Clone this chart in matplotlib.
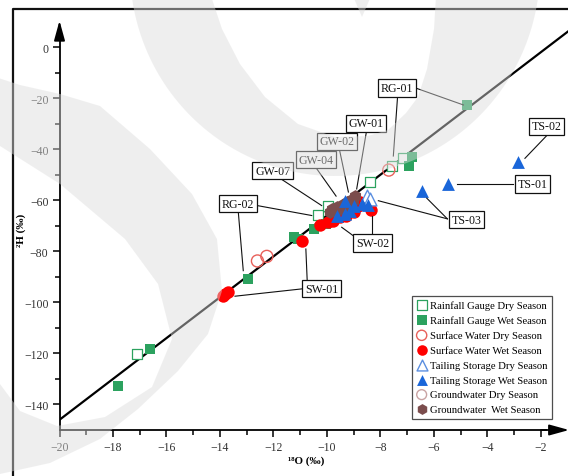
import numpy as np
import matplotlib
matplotlib.use("Agg")
import matplotlib.pyplot as plt
from matplotlib.path import Path
from matplotlib.patches import PathPatch, Polygon
from matplotlib.lines import Line2D
from matplotlib.ticker import FixedLocator

plt.rcParams['font.family'] = ['Liberation Serif', 'DejaVu Serif']

# ---- data (d18O, d2H) ----
rg_dry_x = [-17.1, -10.35, -9.97, -8.4, -7.58, -7.15]
rg_dry_y = [-120.3, -65.6, -62.1, -52.8, -46.5, -43.6]
rg_wet_x = [-17.8, -16.6, -12.96, -11.22, -11.1, -10.47, -10.04, -6.81, -6.92, -4.78]
rg_wet_y = [-132.7, -118.2, -90.8, -74.5, -75.0, -71.2, -69.3, -42.9, -46.8, -22.8]
sw_dry_x = [-12.6, -12.25, -7.69]
sw_dry_y = [-83.8, -82.0, -48.2]
sw_wet_x = [-13.9, -13.8, -13.7, -10.95, -10.26, -9.95, -9.76, -9.5, -9.3, -9.0, -8.83, -8.78, -8.35]
sw_wet_y = [-97.4, -96.6, -96.0, -75.8, -69.6, -68.6, -68.0, -66.5, -66.0, -64.8, -62.1, -60.8, -64.0]
ts_dry_x = [-8.5, -8.4]
ts_dry_y = [-58.2, -59.6]
ts_wet_x = [-9.33, -9.14, -8.99, -8.70, -9.33, -9.64, -8.45, -6.46, -5.47, -2.87]
ts_wet_y = [-60.2, -64.1, -62.1, -61.4, -65.4, -66.0, -62.0, -56.5, -53.6, -45.1]
gw_dry_x = [-10.15]
gw_dry_y = [-66.8]
gw_wet_x = [-9.88, -9.80, -9.70, -9.62, -9.52, -9.44, -9.35, -9.27, -9.18, -9.10, -9.02, -8.94]
gw_wet_y = [-64.8, -63.5, -64.2, -62.8, -63.4, -61.9, -62.5, -60.9, -61.4, -59.8, -60.3, -58.4]

# local meteoric water line
lmwl_slope = 8.0
lmwl_icpt = 14.0

# site labels: name, box centre, leader lines [(start, end), ...]
site_labels = [
    ("RG-01", (-7.38, -16.1), [((-7.36, -19.2), (-7.52, -42.7)), ((-6.65, -16.2), (-4.90, -22.7))]),
    ("GW-01", (-8.55, -29.9), [((-8.52, -32.8), (-8.89, -55.6))]),
    ("GW-02", (-9.63, -37.0), [((-9.54, -39.9), (-9.20, -56.8))]),
    ("GW-04", (-10.40, -44.1), [((-10.45, -46.7), (-9.66, -58.4))]),
    ("GW-07", (-12.03, -48.4), [((-11.76, -51.4), (-10.20, -62.1))]),
    ("RG-02", (-13.33, -61.3), [((-12.61, -62.1), (-10.57, -66.0)), ((-13.32, -64.1), (-13.13, -87.6))]),
    ("SW-02", (-8.30, -76.8), [((-9.02, -73.9), (-9.45, -70.6)), ((-8.33, -73.9), (-8.33, -66.0))]),
    ("SW-01", (-10.20, -94.7), [((-10.74, -91.5), (-10.79, -79.1)), ((-10.91, -94.7), (-13.44, -97.6))]),
    ("TS-03", (-4.77, -67.7), [((-5.50, -67.3), (-8.08, -60.2)), ((-5.50, -67.3), (-6.27, -59.2))]),
    ("TS-01", (-2.31, -53.7), [((-3.04, -53.6), (-5.15, -53.6))]),
    ("TS-02", (-1.79, -31.0), [((-1.73, -34.1), (-2.60, -43.6))]),
]

W, H = 568, 477
fig = plt.figure(figsize=(W / 100, H / 100), dpi=100)
ax = fig.add_axes([59.5 / W, (H - 431) / H, (W - 59.5) / W, 431 / H])
ax.set_xlim(-20, -0.99)
ax.set_ylim(-150, 18.8)
ax.patch.set_alpha(0)

green = '#2ca25f'
red_l = '#e8605a'
blue_l = '#5b8fe0'
gw_l = '#c9a3a3'

xl = np.array([-20, -0.99])
ax.plot(xl, lmwl_slope * xl + lmwl_icpt, color='black', lw=1.6, zorder=2)

ax.scatter(gw_dry_x, gw_dry_y, marker='o', s=70, facecolor='none', edgecolor=gw_l, lw=1.0, zorder=3,
           label='Groundwater Dry Season')
ax.scatter(rg_dry_x, rg_dry_y, marker='s', s=62, facecolor='white', edgecolor=green, lw=0.9, zorder=3,
           label='Rainfall Gauge Dry Season')
ax.scatter(rg_wet_x, rg_wet_y, marker='s', s=62, color=green, lw=0, zorder=3,
           label='Rainfall Gauge Wet Season')
ax.scatter(sw_dry_x, sw_dry_y, marker='o', s=75, facecolor='none', edgecolor=red_l, lw=1.0, zorder=4,
           label='Surface Water Dry Season')
ax.scatter(sw_wet_x, sw_wet_y, marker='o', s=80, color='#ff0000', lw=0, zorder=4,
           label='Surface Water Wet Season')
ax.scatter(gw_wet_x, gw_wet_y, marker='h', s=85, color='#7b4d4d', lw=0, zorder=5,
           label='Groundwater  Wet Season')
ax.scatter(ts_dry_x, ts_dry_y, marker='^', s=85, facecolor='white', edgecolor=blue_l, lw=1.0, zorder=6,
           label='Tailing Storage Dry Season')
ax.scatter(ts_wet_x, ts_wet_y, marker='^', s=85, color='#1a66d9', lw=0, zorder=6,
           label='Tailing Storage Wet Season')

# leader lines + boxed labels
for name, (bx, by), leaders in site_labels:
    for (x0, y0), (x1, y1) in leaders:
        ax.plot([x0, x1], [y0, y1], color='#111111', lw=0.8, zorder=7, clip_on=False)
    ax.text(bx, by, name, ha='center', va='center', fontsize=8.6, color='#111111', zorder=8,
            bbox=dict(boxstyle='square,pad=0.22', fc='white', ec='#111111', lw=0.9), clip_on=False)

# legend in the original order
h, l = ax.get_legend_handles_labels()
order = ['Rainfall Gauge Dry Season', 'Rainfall Gauge Wet Season', 'Surface Water Dry Season',
         'Surface Water Wet Season', 'Tailing Storage Dry Season', 'Tailing Storage Wet Season',
         'Groundwater Dry Season', 'Groundwater  Wet Season']
hd = dict(zip(l, h))
leg = ax.legend([hd[k] for k in order], order, loc='upper left', bbox_to_anchor=(411.5 / W, 1 - 296.5 / H),
                bbox_transform=fig.transFigure, borderaxespad=0, fontsize=7.7, frameon=True, fancybox=False,
                handletextpad=0.25, labelspacing=0.5, borderpad=0.45, handlelength=1.0, markerscale=0.85)
leg.get_frame().set_edgecolor('#222222')
leg.get_frame().set_linewidth(0.9)
leg.set_zorder(9)

# axes drawn as arrows
for s in ['top', 'right']:
    ax.spines[s].set_visible(False)
ax.spines['left'].set_bounds(-150, 5)
ax.spines['bottom'].set_bounds(-20, -1.8)
for s in ['left', 'bottom']:
    ax.spines[s].set_linewidth(1.3)
ax.annotate('', xy=(-20, 10.3), xytext=(-20, 3), annotation_clip=False,
            arrowprops=dict(arrowstyle='-|>,head_length=0.8,head_width=0.22', mutation_scale=15,
                            color='black', lw=1.3, shrinkA=0, shrinkB=0))
ax.annotate('', xy=(-0.95, -150), xytext=(-2.0, -150), annotation_clip=False,
            arrowprops=dict(arrowstyle='-|>,head_length=0.8,head_width=0.22', mutation_scale=15,
                            color='black', lw=1.3, shrinkA=0, shrinkB=0))

ax.set_xticks(np.arange(-20, -1, 2))
ax.set_yticks(np.arange(0, -141, -20))
ax.xaxis.set_minor_locator(FixedLocator(np.arange(-19, -2, 2)))
ax.yaxis.set_minor_locator(FixedLocator(np.arange(-130, 0, 20)))
ax.tick_params(which='major', direction='out', length=5, width=1.1, labelsize=8.5, labelcolor='#333333', pad=3)
ax.tick_params(which='minor', direction='out', length=3.5, width=1.1)

fig.text(306 / W, 1 - 461 / H, '¹⁸O (‰)', ha='center', va='center', fontsize=8, fontweight='bold')
fig.text(21 / W, 1 - 230 / H, '²H (‰)', ha='center', va='center', fontsize=8, fontweight='bold', rotation=90)

# ---- overlay: page frame and light watermark ----
ov = fig.add_axes([0, 0, 1, 1], zorder=20)
ov.set_xlim(0, W)
ov.set_ylim(H, 0)
ov.axis('off')
ov.patch.set_alpha(0)
ov.add_line(Line2D([13, 13, W + 5], [H + 5, 10, 10], color='#111111', lw=1.6, zorder=1))


def ellipse_pts(cx, cy, a, b, k=240):
    t = np.linspace(0, 2 * np.pi, k)
    return np.column_stack([cx + a * np.cos(t), cy + b * np.sin(t)])


def ring(outer, inner):
    inner = inner[::-1]
    verts = np.vstack([outer, outer[:1], inner, inner[:1]])
    codes = ([Path.MOVETO] + [Path.LINETO] * (len(outer) - 1) + [Path.CLOSEPOLY]
             + [Path.MOVETO] + [Path.LINETO] * (len(inner) - 1) + [Path.CLOSEPOLY])
    return Path(verts, codes)


wm = dict(facecolor='#dcdcdc', edgecolor='none', alpha=0.46, zorder=2)
top_inner = np.array([(210, -20), (212, 0), (222, 30), (240, 65), (265, 98), (298, 125), (335, 138),
                      (368, 137), (388, 131), (406, 114), (418, 98), (427, 70), (434, 30), (437, -20)])
ov.add_patch(PathPatch(ring(ellipse_pts(335, -30, 205, 207), top_inner[::-1]), **wm))
ov.add_patch(Polygon([(352, -5), (372, -5), (362, 18)], closed=True, **wm))
left_outer = np.array([(-60, 60), (20, 86), (60, 95), (100, 107), (150, 150), (192, 195), (217, 240),
                       (222, 292), (208, 335), (178, 372), (138, 410), (100, 440), (50, 464), (0, 475),
                       (-60, 490)])
left_inner = np.array([(-60, 140), (0, 147), (60, 185), (125, 240), (158, 285), (172, 340), (152, 388),
                       (105, 418), (57, 427), (20, 412), (0, 385), (-60, 330)])
ov.add_patch(PathPatch(ring(left_outer[::-1], left_inner[::-1]), **wm))

fig.savefig('out.png', dpi=100)
